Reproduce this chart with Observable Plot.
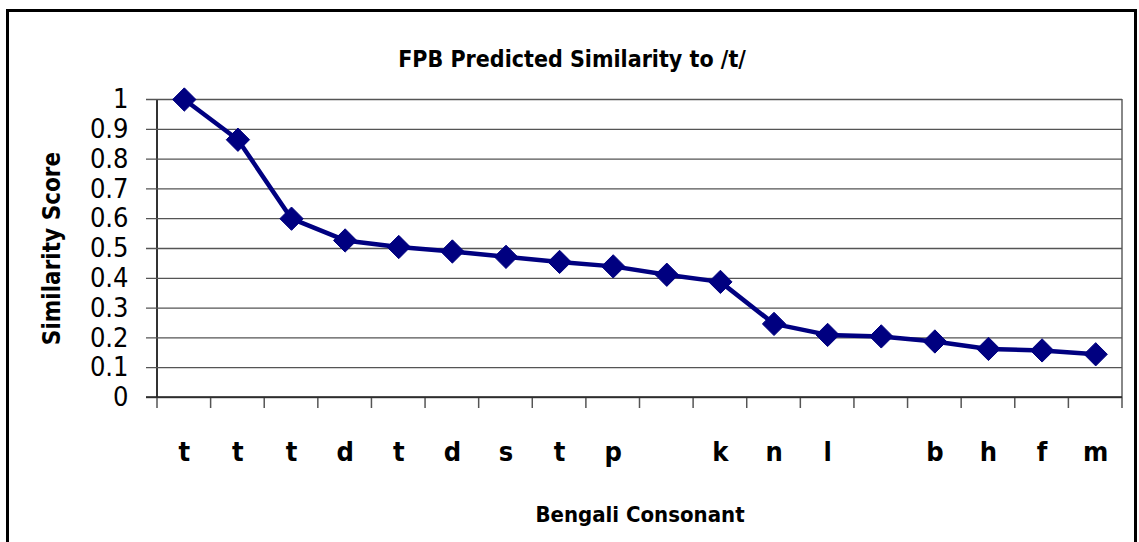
<!DOCTYPE html>
<html>
<head>
<meta charset="utf-8">
<script src="https://cdn.jsdelivr.net/npm/d3@7"></script>
<script src="https://cdn.jsdelivr.net/npm/@observablehq/plot@0.6"></script>
<style>
  html, body { margin: 0; padding: 0; background: #fff; }
  #wrap { position: relative; width: 1139px; height: 542px; overflow: hidden; }
  #frame { position: absolute; left: 6px; top: 9px; width: 1131px; height: 560px; border: 3px solid #000; box-sizing: border-box; pointer-events: none; }
  #chart { position: absolute; left: 0; top: 0; }
  svg { font-family: "DejaVu Sans Condensed", "Liberation Sans Narrow", sans-serif; }
</style>
</head>
<body>
<div id="wrap"><div id="chart"></div><div id="frame"></div></div>
<script>
const consonants = ["t", "t", "t", "d", "t", "d", "s", "t", "p", "", "k", "n", "l", "", "b", "h", "f", "m"];
const scores = [1.0, 0.865, 0.60, 0.527, 0.505, 0.49, 0.472, 0.455, 0.44, 0.412, 0.388, 0.247, 0.21, 0.205, 0.188, 0.163, 0.158, 0.145];
const yTicks = [0, 0.1, 0.2, 0.3, 0.4, 0.5, 0.6, 0.7, 0.8, 0.9, 1];
const chartTitle = "FPB Predicted Similarity to /t/";
const xTitle = "Bengali Consonant";
const yTitle = "Similarity Score";

const data = scores.map((v, i) => ({i, label: consonants[i], v}));
const idx = d3.range(consonants.length);

const plot = Plot.plot({
  width: 1139,
  height: 542,
  marginLeft: 157,
  marginRight: 17,
  marginTop: 99,
  marginBottom: 145,
  style: {background: "transparent", overflow: "visible"},
  x: {type: "band", domain: idx, paddingInner: 0, paddingOuter: 0, round: false},
  y: {domain: [0, 1]},
  marks: [
    Plot.ruleY(yTicks, {stroke: "#555", strokeWidth: 1.3, insetLeft: -11}),
    Plot.axisY({ticks: yTicks, tickSize: 0, tickPadding: 29, tickFormat: d => String(+d.toFixed(1)), fontSize: 27, fill: "#000", label: null}),
    Plot.axisX({ticks: idx, tickSize: 0, tickPadding: 44, tickFormat: i => consonants[i], fontSize: 27, fontWeight: "bold", fill: "#000", label: null}),
    Plot.text([chartTitle], {frameAnchor: "top", textAnchor: "middle", dx: -68, dy: -49, text: d => d, fontSize: 23, fontWeight: "bold", fill: "#000"}),
    Plot.text([xTitle], {frameAnchor: "bottom", textAnchor: "middle", dy: 124, text: d => d, fontSize: 22, fontWeight: "bold", fill: "#000"}),
    Plot.text([yTitle], {frameAnchor: "left", textAnchor: "middle", dx: -105, rotate: -90, text: d => d, fontSize: 24, fontWeight: "bold", fill: "#000"}),
    Plot.line(data, {x: "i", y: "v", stroke: "#000080", strokeWidth: 4.5}),
    Plot.dot(data, {x: "i", y: "v", symbol: "diamond2", r: 10.5, fill: "#000080", stroke: "#000080", strokeWidth: 1})
  ]
});
document.getElementById("chart").appendChild(plot);

// band-edge ticks and axis lines from the x band scale
const xs = plot.scale("x");
const ys = plot.scale("y");
const svg = d3.select(plot);
const g = svg.append("g");
const y0 = ys.apply(0), y1 = ys.apply(1);
const edges = d3.range(consonants.length + 1).map(k => k < consonants.length ? xs.apply(k) : xs.apply(k - 1) + xs.bandwidth);
g.selectAll("line.tk").data(edges).join("line")
  .attr("x1", d => d).attr("x2", d => d).attr("y1", y0).attr("y2", y0 + 11)
  .attr("stroke", "#555").attr("stroke-width", 1.5);
g.append("line").attr("x1", edges[0]).attr("x2", edges[0]).attr("y1", y1).attr("y2", y0)
  .attr("stroke", "#333").attr("stroke-width", 2);
g.append("line").attr("x1", edges[edges.length - 1]).attr("x2", edges[edges.length - 1]).attr("y1", y1).attr("y2", y0)
  .attr("stroke", "#888").attr("stroke-width", 2);
svg.append("line").attr("x1", edges[0] - 11).attr("x2", edges[edges.length - 1]).attr("y1", y0).attr("y2", y0)
  .attr("stroke", "#222").attr("stroke-width", 1.5);
g.lower();
</script>
</body>
</html>
